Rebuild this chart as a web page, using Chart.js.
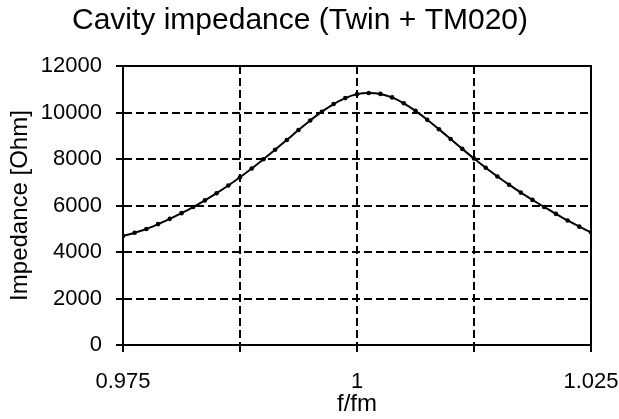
<!DOCTYPE html>
<html>
<head>
<meta charset="utf-8">
<script src="https://cdn.jsdelivr.net/npm/chart.js@4/dist/chart.umd.min.js"></script>
<style>
html, body { margin: 0; padding: 0; background: #fff; }
#wrap { width: 619px; height: 419px; }
</style>
</head>
<body>
<div id="wrap"><canvas id="chart"></canvas></div>
<script>
// f/fm values of the sampled points
const freq = [
	0.975, 0.97625, 0.9775, 0.97875, 0.98, 0.98125, 0.9825, 0.98375, 0.985, 0.98625,
	0.9875, 0.98875, 0.99, 0.99125, 0.9925, 0.99375, 0.995, 0.99625, 0.9975, 0.99875,
	1.0, 1.00125, 1.0025, 1.00375, 1.005, 1.00625, 1.0075, 1.00875, 1.01, 1.01125,
	1.0125, 1.01375, 1.015, 1.01625, 1.0175, 1.01875, 1.02, 1.02125, 1.0225, 1.02375,
	1.025
];

// impedance [Ohm]
const impedance = [
	4690, 4830, 4990, 5200, 5425, 5670, 5935, 6220, 6530, 6860,
	7215, 7590, 7990, 8400, 8820, 9245, 9655, 10035, 10365, 10620,
	10790, 10840, 10800, 10650, 10395, 10070, 9690, 9280, 8860, 8435,
	8020, 7625, 7250, 6895, 6555, 6240, 5935, 5640, 5355, 5090,
	4845
];

// x axis ticks and their labels (gridlines at every tick)
const xTicks = [0.975, 0.9875, 1, 1.0125, 1.025];
const xTickLabels = ['0.975', '', '1', '', '1.025'];

const FONT = 'Liberation Sans, Arial, sans-serif';
const ctx = document.getElementById('chart').getContext('2d');

// solid frame round the plot area + y ticks pointing inside
const framePlugin = {
	id: 'frame',
	afterDraw(chart) {
		const { ctx, chartArea: a, scales } = chart;
		ctx.save();
		ctx.strokeStyle = '#000';
		ctx.lineWidth = 2;
		ctx.setLineDash([]);
		ctx.strokeRect(a.left, a.top, a.right - a.left, a.bottom - a.top);
		ctx.beginPath();
		scales.y.ticks.forEach(t => {
			const y = Math.round(scales.y.getPixelForValue(t.value));
			ctx.moveTo(a.left, y);
			ctx.lineTo(a.left + 5, y);
		});
		ctx.stroke();
		ctx.restore();
	}
};

new Chart(ctx, {
	type: 'line',
	data: {
		datasets: [{
			data: freq.map((f, i) => ({ x: f, y: impedance[i] })),
			borderColor: '#000',
			backgroundColor: '#000',
			borderWidth: 2,
			pointRadius: 2.3,
			pointBorderWidth: 0,
			tension: 0.3,
			fill: false
		}]
	},
	options: {
		responsive: true,
		maintainAspectRatio: false,
		animation: false,
		layout: { padding: { left: 0, right: 19, top: 0, bottom: 0 } },
		plugins: {
			legend: { display: false },
			tooltip: { enabled: false },
			title: {
				display: true,
				text: 'Cavity impedance (Twin + TM020)',
				color: '#000',
				font: { family: FONT, size: 30, weight: 'normal' },
				padding: { top: 3, bottom: 27 }
			}
		},
		scales: {
			x: {
				type: 'linear',
				min: 0.975,
				max: 1.025,
				afterBuildTicks: axis => {
					axis.ticks = xTicks.map(v => ({ value: v }));
				},
				afterFit: axis => {
					axis.height = 74;
					axis.paddingRight = 28;
				},
				ticks: {
					color: '#000',
					font: { family: FONT, size: 22 },
					padding: 17,
					maxRotation: 0,
					autoSkip: false,
					callback: (value, index) => xTickLabels[index]
				},
				grid: {
					color: '#000',
					lineWidth: 2,
					tickLength: 7,
					tickColor: '#000',
					tickWidth: 2
				},
				border: { display: true, color: '#000', width: 2, dash: [8, 4] },
				title: {
					display: true,
					text: 'f/fm',
					color: '#000',
					font: { family: FONT, size: 24 },
					padding: { top: 0, bottom: 0 }
				}
			},
			y: {
				min: 0,
				max: 12000,
				afterFit: axis => {
					axis.width = 123;
				},
				ticks: {
					stepSize: 1000,
					color: '#000',
					font: { family: FONT, size: 22 },
					padding: 14,
					callback: value => (value % 2000 === 0 ? value : '')
				},
				grid: {
					color: c => (c.tick && c.tick.value % 2000 === 0 ? '#000' : 'rgba(0,0,0,0)'),
					lineWidth: 2,
					tickLength: 7,
					tickColor: '#000',
					tickWidth: 2
				},
				border: { display: true, color: '#000', width: 2, dash: [8, 4] },
				title: {
					display: true,
					text: 'Impedance [Ohm]',
					color: '#000',
					font: { family: FONT, size: 24 },
					padding: { top: 6, bottom: 4 }
				}
			}
		}
	},
	plugins: [framePlugin]
});
</script>
</body>
</html>
